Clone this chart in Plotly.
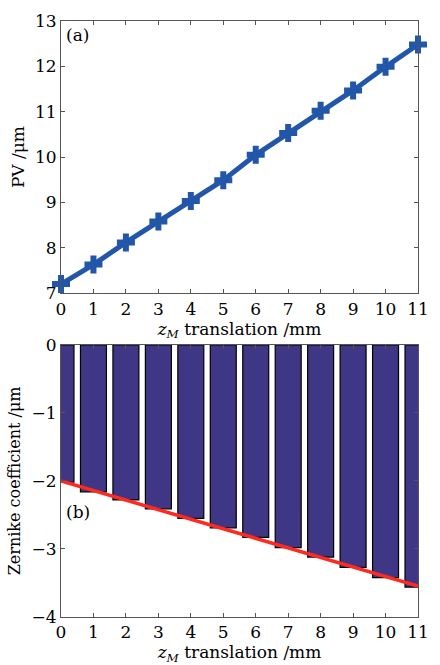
import numpy as np
import plotly.graph_objects as go

translation_mm = [0, 1, 2, 3, 4, 5, 6, 7, 8, 9, 10, 11]
pv_um = [7.2, 7.63, 8.12, 8.58, 9.03, 9.49, 10.05, 10.53, 11.02, 11.47, 11.99, 12.48]
zernike_um = [-2.02, -2.16, -2.28, -2.41, -2.55, -2.69, -2.83, -2.98, -3.12, -3.27, -3.42, -3.56]

x_ticks = list(range(0, 12))
y1_ticks = [7, 8, 9, 10, 11, 12, 13]
y2_ticks = [0, -1, -2, -3, -4]
y2_ticktext = ["0", "\u22121", "\u22122", "\u22123", "\u22124"]

coef = np.polyfit(translation_mm, zernike_um, 1)
fit_x = [translation_mm[0], translation_mm[-1]]
fit_y = list(np.polyval(coef, fit_x))

FONT = "DejaVu Serif"
AX = "#555555"

fig = go.Figure()
fig.add_trace(go.Scatter(
    x=translation_mm, y=pv_um, mode="lines+markers",
    line=dict(color="#2256A8", width=5),
    marker=dict(symbol="cross", size=15, color="#2256A8"),
    xaxis="x", yaxis="y", showlegend=False, cliponaxis=False))
fig.add_trace(go.Bar(
    x=translation_mm, y=zernike_um, width=0.8,
    marker=dict(color="#3F3685", line=dict(color="black", width=1.2)),
    xaxis="x2", yaxis="y2", showlegend=False))
fig.add_trace(go.Scatter(
    x=fit_x, y=fit_y, mode="lines",
    line=dict(color="#FF2A1F", width=3.5),
    xaxis="x2", yaxis="y2", showlegend=False))

tf = dict(family=FONT, size=17, color="black")
tf2 = dict(family=FONT, size=16, color="black")
axis_common = dict(showline=True, linecolor=AX, linewidth=1, mirror="ticks",
                   ticks="inside", ticklen=4, tickcolor=AX, showgrid=False,
                   zeroline=False)
xtitle = dict(text="<i>z</i><sub><i>M</i></sub> translation /mm",
              font=tf, standoff=0)

fig.update_layout(
    width=440, height=665,
    margin=dict(l=61, r=11, t=18, b=47),
    plot_bgcolor="white", paper_bgcolor="white",
    font=dict(family=FONT, color="black", size=17),
    xaxis=dict(domain=[0, 1], anchor="y", range=[0, 11], tickvals=x_ticks,
               tickfont=tf, title=xtitle, **axis_common),
    yaxis=dict(domain=[0.5433, 1], anchor="x", range=[7, 13], tickvals=y1_ticks,
               tickfont=tf,
               title=dict(text="PV /\u03bcm", font=tf, standoff=6),
               **axis_common),
    xaxis2=dict(domain=[0, 1], anchor="y2", range=[0, 11], tickvals=x_ticks,
                tickfont=tf, title=xtitle, **axis_common),
    yaxis2=dict(domain=[0, 0.4567], anchor="x2", range=[-4, 0], tickvals=y2_ticks,
                ticktext=y2_ticktext, tickfont=tf,
                title=dict(text="Zernike coefficient /\u03bcm", font=tf2, standoff=6),
                **axis_common),
    annotations=[
        dict(text="(a)", x=0.008, y=0.997, xref="paper", yref="paper",
             xanchor="left", yanchor="top", showarrow=False, font=tf),
        dict(text="(b)", x=0.008, y=0.197, xref="paper", yref="paper",
             xanchor="left", yanchor="top", showarrow=False, font=tf),
    ],
)

fig.write_html("out.html")
